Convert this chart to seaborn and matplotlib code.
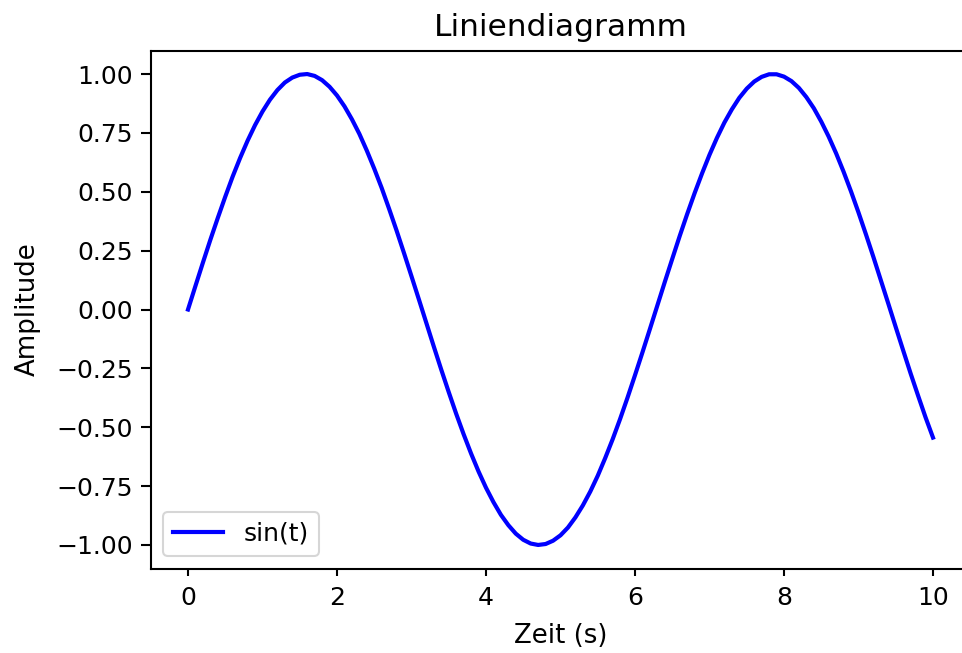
import matplotlib
matplotlib.use("Agg")
import matplotlib.pyplot as plt
import seaborn as sns
import pandas as pd

# Time axis (s) and amplitude
zeit = [round(0.1 * k, 1) for k in range(101)]
amplitude = [
    0.000, 0.100, 0.199, 0.296, 0.389, 0.479, 0.565, 0.644, 0.717, 0.783,
    0.841, 0.891, 0.932, 0.964, 0.985, 0.997, 1.000, 0.992, 0.974, 0.946,
    0.909, 0.863, 0.808, 0.746, 0.675, 0.598, 0.516, 0.427, 0.335, 0.239,
    0.141, 0.042, -0.058, -0.158, -0.256, -0.351, -0.443, -0.530, -0.612, -0.688,
    -0.757, -0.818, -0.872, -0.916, -0.952, -0.978, -0.994, -1.000, -0.996, -0.982,
    -0.959, -0.926, -0.883, -0.832, -0.773, -0.706, -0.631, -0.551, -0.465, -0.374,
    -0.279, -0.182, -0.083, 0.017, 0.117, 0.215, 0.312, 0.405, 0.494, 0.578,
    0.657, 0.729, 0.794, 0.850, 0.899, 0.938, 0.968, 0.988, 0.999, 0.999,
    0.989, 0.970, 0.941, 0.902, 0.855, 0.798, 0.734, 0.663, 0.585, 0.501,
    0.412, 0.319, 0.223, 0.124, 0.025, -0.075, -0.174, -0.272, -0.366, -0.458,
    -0.544,
]
series_label = "sin(t)"
y_ticks = [-1.00, -0.75, -0.50, -0.25, 0.00, 0.25, 0.50, 0.75, 1.00]
x_ticks = [0, 2, 4, 6, 8, 10]

df = pd.DataFrame({"Zeit": zeit, "Amplitude": amplitude})

fig = plt.figure(figsize=(962 / 150, 653 / 150), dpi=150)
ax = fig.add_axes([150.75 / 962, (653 - 568.5) / 653, 819.5 / 962, 518 / 653])

sns.lineplot(data=df, x="Zeit", y="Amplitude", ax=ax, color="blue",
             linewidth=2.0, label=series_label, sort=False, estimator=None)

for s in ax.spines.values():
    s.set_linewidth(1.0)
ax.tick_params(width=1.0, labelsize=12)
ax.tick_params(axis="y", length=5, pad=3.5)
ax.tick_params(axis="x", length=3.5, pad=5)

ax.set_xlim(-0.5, 10.5)
ax.set_ylim(-1.1, 1.1)
ax.set_yticks(y_ticks)
ax.set_yticklabels([f"{v:.2f}".replace("-", "\u2212") for v in y_ticks])
ax.set_xticks(x_ticks)
ax.set_title("Liniendiagramm", fontsize=15, pad=7)
ax.set_xlabel("Zeit (s)", fontsize=12.5, labelpad=6)
ax.set_ylabel("Amplitude", fontsize=12.5, labelpad=7.5)
ax.legend(loc="lower left", fontsize=12)

fig.savefig("out.png", dpi=150)
